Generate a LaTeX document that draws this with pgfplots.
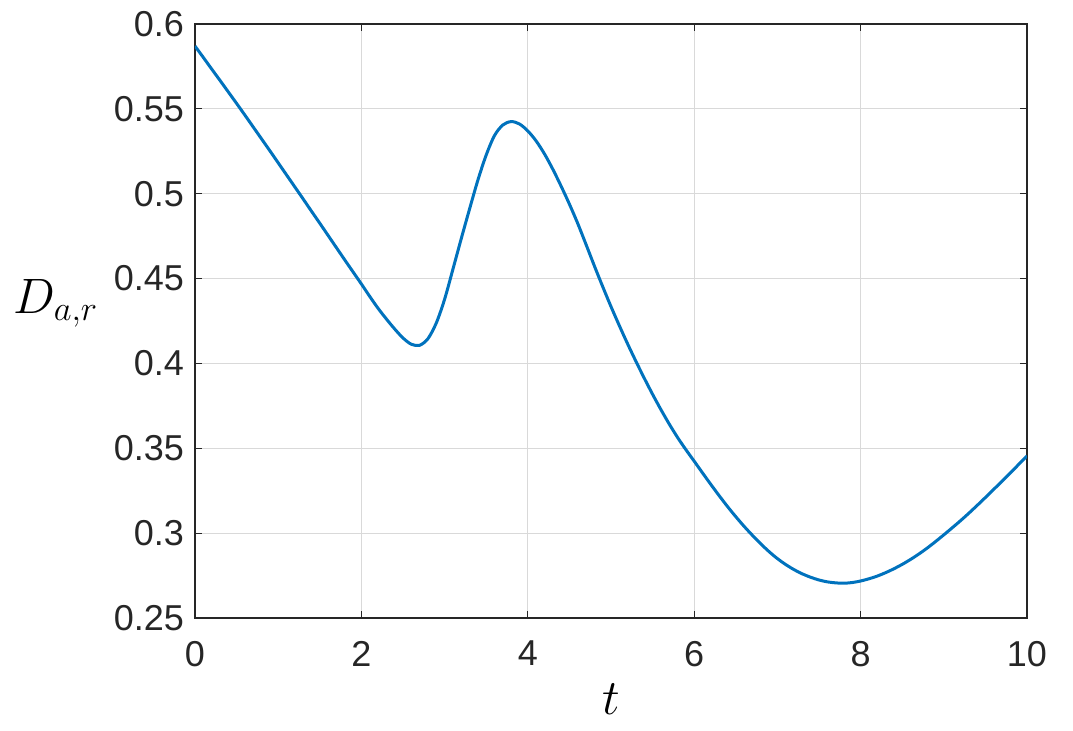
\documentclass[border=0pt]{standalone}
\usepackage{fontspec}
\setmainfont{Liberation Sans}
\usepackage{pgfplots}
\pgfplotsset{compat=1.18}
\definecolor{mblue}{RGB}{0,114,189}
\definecolor{axgray}{RGB}{38,38,38}
\begin{document}
\begin{tikzpicture}
\path[use as bounding box] (-97.5pt,-56pt) rectangle (439pt,309pt);
\begin{axis}[
  scale only axis,
  width=416pt, height=297pt,
  xmin=0, xmax=10, ymin=0.25, ymax=0.6,
  xtick={0,2,...,10},
  ytick={0.25,0.3,...,0.6},
  yticklabels={0.25,0.3,0.35,0.4,0.45,0.5,0.55,0.6},
  /pgf/number format/assume math mode=true,
  tick label style={font=\fontsize{18}{21}\selectfont, text=axgray},
  axis line style={axgray, line width=0.6pt},
  tick style={axgray, line width=0.6pt},
  tick align=inside,
  major tick length=3.5pt,
  xtick pos=both, ytick pos=both,
  grid=major,
  major grid style={gray!30, line width=0.4pt},
  xticklabel style={yshift=-8pt},
  yticklabel style={xshift=-2pt},
  xlabel={$t$},
  ylabel={$D_{a,r}$},
  every axis x label/.style={at={(ticklabel cs:0.5)}, anchor=north, yshift=-2pt, font=\fontsize{25.5}{30}\selectfont},
  every axis y label/.style={at={(ticklabel cs:0.53)}, anchor=east, rotate=0, xshift=-1pt, font=\fontsize{25.5}{30}\selectfont},
]
\addplot[mblue, line width=1.5pt, smooth] coordinates {
(0.0,0.5870) (0.1,0.5803) (0.2,0.5735) (0.3,0.5668) (0.4,0.5600) (0.5,0.5532)
(0.6,0.5463) (0.7,0.5393) (0.8,0.5323) (0.9,0.5253) (1.0,0.5182) (1.1,0.5111)
(1.2,0.5040) (1.3,0.4969) (1.4,0.4897) (1.5,0.4826) (1.6,0.4754) (1.7,0.4682)
(1.8,0.4610) (1.9,0.4539) (2.0,0.4468) (2.1,0.4395) (2.2,0.4325) (2.3,0.4262)
(2.4,0.4203) (2.5,0.4150) (2.6,0.4113) (2.7,0.4107) (2.8,0.4146) (2.9,0.4238)
(3.0,0.4378) (3.1,0.4555) (3.2,0.4735) (3.3,0.4910) (3.4,0.5080) (3.5,0.5228)
(3.6,0.5343) (3.7,0.5405) (3.8,0.5425) (3.9,0.5411) (4.0,0.5370) (4.1,0.5311)
(4.2,0.5235) (4.3,0.5145) (4.4,0.5045) (4.5,0.4939) (4.6,0.4825) (4.7,0.4701)
(4.8,0.4575) (4.9,0.4453) (5.0,0.4335) (5.1,0.4223) (5.2,0.4115) (5.3,0.4012)
(5.4,0.3913) (5.5,0.3818) (5.6,0.3728) (5.7,0.3643) (5.8,0.3564) (5.9,0.3492)
(6.0,0.3424) (6.1,0.3355) (6.2,0.3287) (6.3,0.3221) (6.4,0.3157) (6.5,0.3097)
(6.6,0.3040) (6.7,0.2987) (6.8,0.2937) (6.9,0.2891) (7.0,0.2850) (7.1,0.2815)
(7.2,0.2785) (7.3,0.2760) (7.4,0.2740) (7.5,0.2724) (7.6,0.2713) (7.7,0.2707)
(7.8,0.2705) (7.9,0.2709) (8.0,0.2718) (8.1,0.2731) (8.2,0.2747) (8.3,0.2767)
(8.4,0.2790) (8.5,0.2816) (8.6,0.2845) (8.7,0.2877) (8.8,0.2912) (8.9,0.2950)
(9.0,0.2990) (9.1,0.3031) (9.2,0.3073) (9.3,0.3117) (9.4,0.3163) (9.5,0.3210)
(9.6,0.3258) (9.7,0.3306) (9.8,0.3355) (9.9,0.3405) (10.0,0.3455)
};
\end{axis}
\end{tikzpicture}
\end{document}
